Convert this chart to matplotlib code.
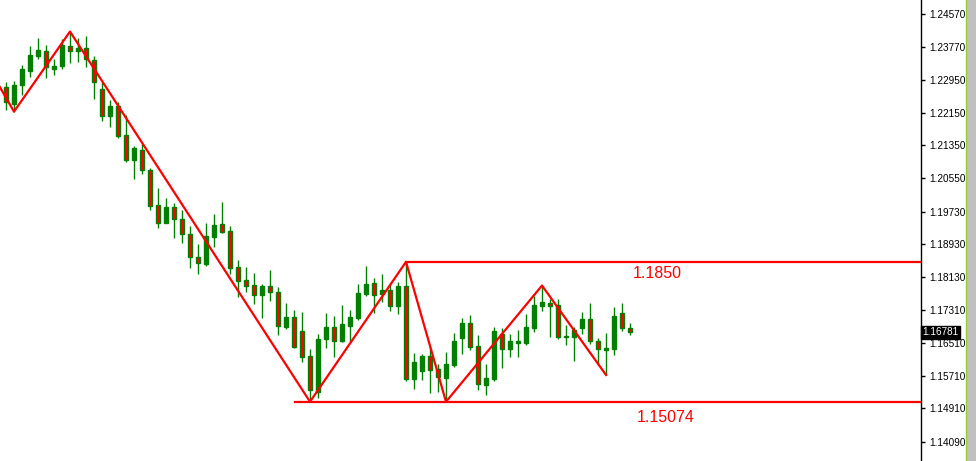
import matplotlib
matplotlib.use("Agg")
from matplotlib import pyplot as plt
from matplotlib.patches import Rectangle
from matplotlib.lines import Line2D

# candle data (index 0 = first full candle on the left)
opens = [1.2278, 1.2237, 1.2283, 1.2318, 1.2355, 1.2366, 1.2323, 1.2330, 1.2379, 1.2367,
         1.2373, 1.2344, 1.2273, 1.2206, 1.2232, 1.2161, 1.2100, 1.2124, 1.2075, 1.1989,
         1.1946, 1.1984, 1.1955, 1.1918, 1.1862, 1.1845, 1.1910, 1.1943, 1.1926, 1.1837,
         1.1806, 1.1793, 1.1770, 1.1791, 1.1775, 1.1691, 1.1714, 1.1680, 1.1619, 1.1532,
         1.1660, 1.1690, 1.1657, 1.1694, 1.1713, 1.1772, 1.1798, 1.1772, 1.1781, 1.1743,
         1.1791, 1.1563, 1.1583, 1.1619, 1.1588, 1.1566, 1.1597, 1.1663, 1.1700, 1.1643,
         1.1549, 1.1563, 1.1673, 1.1636, 1.1652, 1.1652, 1.1689, 1.1743, 1.1749, 1.1744,
         1.1667, 1.1667, 1.1689, 1.1710, 1.1656, 1.1635, 1.1637, 1.1724, 1.1687]
highs = [1.2291, 1.2293, 1.2332, 1.2379, 1.2398, 1.2381, 1.2346, 1.2396, 1.2414, 1.2398,
         1.2403, 1.2354, 1.2291, 1.2246, 1.2242, 1.2210, 1.2134, 1.2139, 1.2081, 1.2030,
         1.2006, 1.1994, 1.1977, 1.1938, 1.1894, 1.1944, 1.1967, 1.1997, 1.1938, 1.1855,
         1.1837, 1.1822, 1.1796, 1.1830, 1.1788, 1.1749, 1.1732, 1.1726, 1.1637, 1.1673,
         1.1725, 1.1717, 1.1744, 1.1732, 1.1797, 1.1841, 1.1811, 1.1820, 1.1799, 1.1801,
         1.1850, 1.1626, 1.1624, 1.1644, 1.1600, 1.1630, 1.1676, 1.1713, 1.1720, 1.1671,
         1.1599, 1.1690, 1.1688, 1.1673, 1.1683, 1.1722, 1.1766, 1.1792, 1.1759, 1.1758,
         1.1695, 1.1690, 1.1728, 1.1749, 1.1664, 1.1675, 1.1739, 1.1750, 1.1701]
lows = [1.2221, 1.2218, 1.2259, 1.2303, 1.2347, 1.2300, 1.2308, 1.2322, 1.2336, 1.2340,
        1.2328, 1.2249, 1.2196, 1.2181, 1.2153, 1.2095, 1.2054, 1.2064, 1.1978, 1.1934,
        1.1944, 1.1908, 1.1895, 1.1834, 1.1820, 1.1839, 1.1887, 1.1921, 1.1820, 1.1763,
        1.1775, 1.1747, 1.1713, 1.1755, 1.1671, 1.1686, 1.1639, 1.1604, 1.15074, 1.1516,
        1.1640, 1.1616, 1.1654, 1.1651, 1.1708, 1.1767, 1.1724, 1.1752, 1.1730, 1.1723,
        1.1558, 1.1539, 1.1561, 1.1529, 1.1531, 1.15074, 1.1593, 1.1624, 1.1634, 1.1536,
        1.1524, 1.1557, 1.1589, 1.1618, 1.1618, 1.1646, 1.1679, 1.1730, 1.1667, 1.1661,
        1.1646, 1.1608, 1.1673, 1.1649, 1.1597, 1.1573, 1.1622, 1.1681, 1.1671]
closes = [1.2241, 1.2283, 1.2322, 1.2357, 1.2369, 1.2326, 1.2330, 1.2381, 1.2367, 1.2374,
          1.2346, 1.2290, 1.2208, 1.2232, 1.2159, 1.2099, 1.2128, 1.2076, 1.1988, 1.1946,
          1.1984, 1.1956, 1.1918, 1.1861, 1.1846, 1.1913, 1.1940, 1.1924, 1.1836, 1.1804,
          1.1792, 1.1768, 1.1791, 1.1775, 1.1692, 1.1714, 1.1642, 1.1618, 1.1535, 1.1661,
          1.1690, 1.1656, 1.1698, 1.1714, 1.1774, 1.1796, 1.1768, 1.1781, 1.1743, 1.1791,
          1.1563, 1.1604, 1.1620, 1.1586, 1.1567, 1.1600, 1.1656, 1.1700, 1.1642, 1.1550,
          1.1565, 1.1681, 1.1636, 1.1656, 1.1656, 1.1690, 1.1744, 1.1751, 1.1743, 1.1667,
          1.1668, 1.1683, 1.1710, 1.1657, 1.1636, 1.1638, 1.1717, 1.1687, 1.16781]

# zigzag pivots (candle index, price)
zz_idx = [-1, 1, 8, 38, 50, 55, 67, 75]
zz_price = [1.2286, 1.2218, 1.2414, 1.15074, 1.1850, 1.15074, 1.1792, 1.1573]

# horizontal levels
level_prices = [1.1850, 1.15074]
level_labels = ["1.1850", "1.15074"]
level_start = [50, 36.1]
label_pos = [(81.4, 1.1822), (82.5, 1.14688)]

yticks = [1.24570, 1.23770, 1.22950, 1.22150, 1.21350, 1.20550, 1.19730,
          1.18930, 1.18130, 1.17310, 1.16510, 1.15710, 1.14910, 1.14090]
last_price = 1.16781

W, H = 976, 461
fig = plt.figure(figsize=(W / 100, H / 100), dpi=100)
ax = fig.add_axes([0, 0, 921 / W, 1])

green = "#008000"
red = "#ff0000"

for i in range(len(opens)):
    o, h, l, c = opens[i], highs[i], lows[i], closes[i]
    ax.plot([i, i], [l, h], color=green, lw=1, solid_capstyle="butt", zorder=2)
    fc = green if c >= o else red
    bottom = min(o, c)
    ht = max(abs(c - o), 0.00002)
    ax.add_patch(Rectangle((i - 0.3, bottom), 0.6, ht, facecolor=fc,
                           edgecolor=green, lw=1, zorder=3))

ax.plot(zz_idx, zz_price, color=red, lw=1.6, zorder=4)

for p, s in zip(level_prices, level_start):
    ax.plot([s, 200], [p, p], color=red, lw=1.6, zorder=4)

for (x, y), t in zip(label_pos, level_labels):
    ax.text(x, y, t, color=red, fontsize=11.5, family="Liberation Sans",
            ha="center", va="center")

ax.set_xlim(-0.75, 114.375)
ax.set_ylim(1.13623, 1.24913)

for s in ["top", "left", "bottom"]:
    ax.spines[s].set_visible(False)
ax.spines["right"].set_color("black")
ax.spines["right"].set_linewidth(1)
ax.set_xticks([])
ax.yaxis.tick_right()
ax.set_yticks(yticks)
ax.set_yticklabels([f"{v:.5f}" for v in yticks], fontsize=7.2, family="Liberation Sans")
ax.tick_params(axis="y", direction="out", length=3, width=1, pad=3, colors="black")

ax.text(1.0015, last_price, f"{last_price:.5f}", transform=ax.get_yaxis_transform(),
        color="white", fontsize=7.2, family="Liberation Sans", ha="left", va="center",
        bbox=dict(boxstyle="square,pad=0.15", facecolor="black", edgecolor="black"), zorder=6)

# right-hand grey strip like the terminal window border
fig.patches.append(Rectangle((967 / W, 0), 9 / W, 1, transform=fig.transFigure,
                             facecolor="#c0c0c0", edgecolor="none"))
fig.lines.append(Line2D([966 / W, 966 / W], [0, 1], transform=fig.transFigure,
                        color="#9acd32", lw=1))

fig.savefig("out.png", dpi=100)
